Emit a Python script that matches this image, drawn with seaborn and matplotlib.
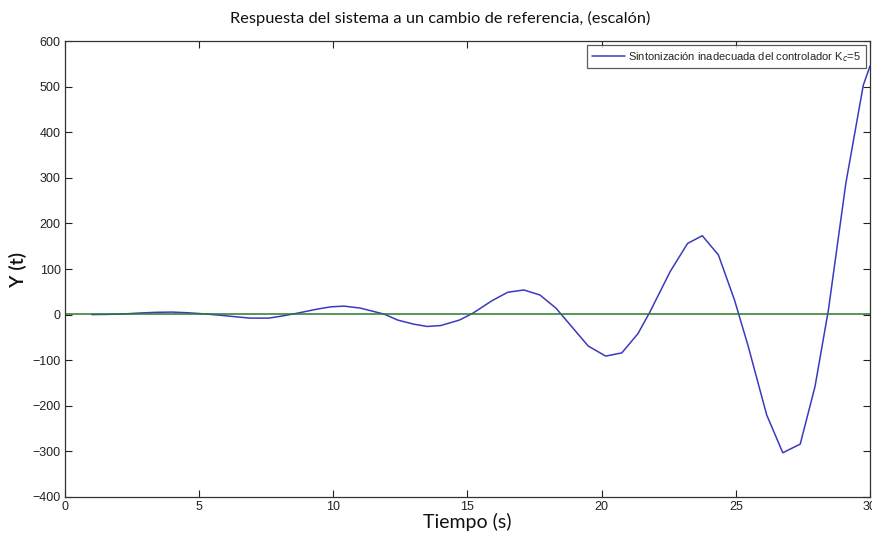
import matplotlib
matplotlib.use('Agg')
import matplotlib.pyplot as plt
import seaborn as sns

# step response (time in s, output)
tiempo = [1.0, 1.6, 2.2, 2.8, 3.4, 4.0, 4.6, 5.2, 5.8, 6.4, 6.9, 7.6, 8.1, 8.6,
          9.4, 9.9, 10.4, 11.0, 11.9, 12.4, 13.0, 13.5, 14.0, 14.7, 15.2, 15.9,
          16.5, 17.1, 17.7, 18.3, 19.5, 20.15, 20.75, 21.35, 21.8, 22.55, 23.2,
          23.75, 24.35, 24.95, 25.45, 26.15, 26.75, 27.4, 27.95, 28.45, 29.1,
          29.75, 30.0]
respuesta = [0, 0.5, 1.5, 3.5, 5, 5.5, 4, 1.5, -1.5, -5, -7.7, -7.7, -3, 2.4,
             12, 17, 18.6, 14.3, 1, -12, -21, -26, -24, -12, 3, 30,
             49, 54, 43, 14, -69, -91, -84, -42, 6, 94, 156,
             173, 131, 32, -67, -220, -303, -284, -158, 10, 288,
             503, 545]

# reference (step)
ref_t = [0, 30]
ref_y = [1, 1]

xticks = [0, 5, 10, 15, 20, 25, 30]
yticks = [-400, -300, -200, -100, 0, 100, 200, 300, 400, 500, 600]

titulo = 'Respuesta del sistema a un cambio de referencia, (escalón)'
etiqueta = 'Sintonización inadecuada del controlador K$_c$=5'

sns.set_style('ticks')
plt.rcParams['font.family'] = ['Liberation Sans Narrow', 'Liberation Sans', 'DejaVu Sans']

fig = plt.figure(figsize=(8.72, 5.34), dpi=100)
ax = fig.add_axes([0.0745, 0.0693, 0.9232, 0.8539])

sns.lineplot(x=tiempo, y=respuesta, ax=ax, color='#3a3ac0', lw=1.1,
             sort=False, estimator=None, label=etiqueta)
sns.lineplot(x=ref_t, y=ref_y, ax=ax, color='#2a7a2a', lw=1.1,
             sort=False, estimator=None)

ax.set_xlim(0, 30)
ax.set_ylim(-400, 600)
ax.set_xticks(xticks)
ax.set_yticks(yticks)
ax.tick_params(direction='in', length=5, width=0.8, top=True, right=True,
               labelsize=9, colors='#222222', pad=3)
for s in ax.spines.values():
    s.set_visible(True)
    s.set_linewidth(0.9)
    s.set_color('#333333')

# title sits centred on the figure, not on the axes
fig.text(0.505, 0.966, titulo, family=['Lato', 'DejaVu Sans'], fontsize=11.8,
         ha='center', va='center', color='#111111')
ax.set_xlabel('Tiempo (s)', family=['Lato', 'DejaVu Sans'], fontsize=14,
              labelpad=0, color='#111111')
ax.set_ylabel('Y (t)', family=['Lato', 'DejaVu Sans'], fontsize=14,
              fontweight='semibold', labelpad=4, color='#111111')

leg = ax.legend(loc='upper right', fontsize=8, frameon=True, fancybox=False,
                handlelength=3.0, handletextpad=0.3, borderaxespad=0.4,
                borderpad=0.4)
leg.get_frame().set_edgecolor('#333333')
leg.get_frame().set_linewidth(0.9)

fig.savefig('out.png', dpi=100)
